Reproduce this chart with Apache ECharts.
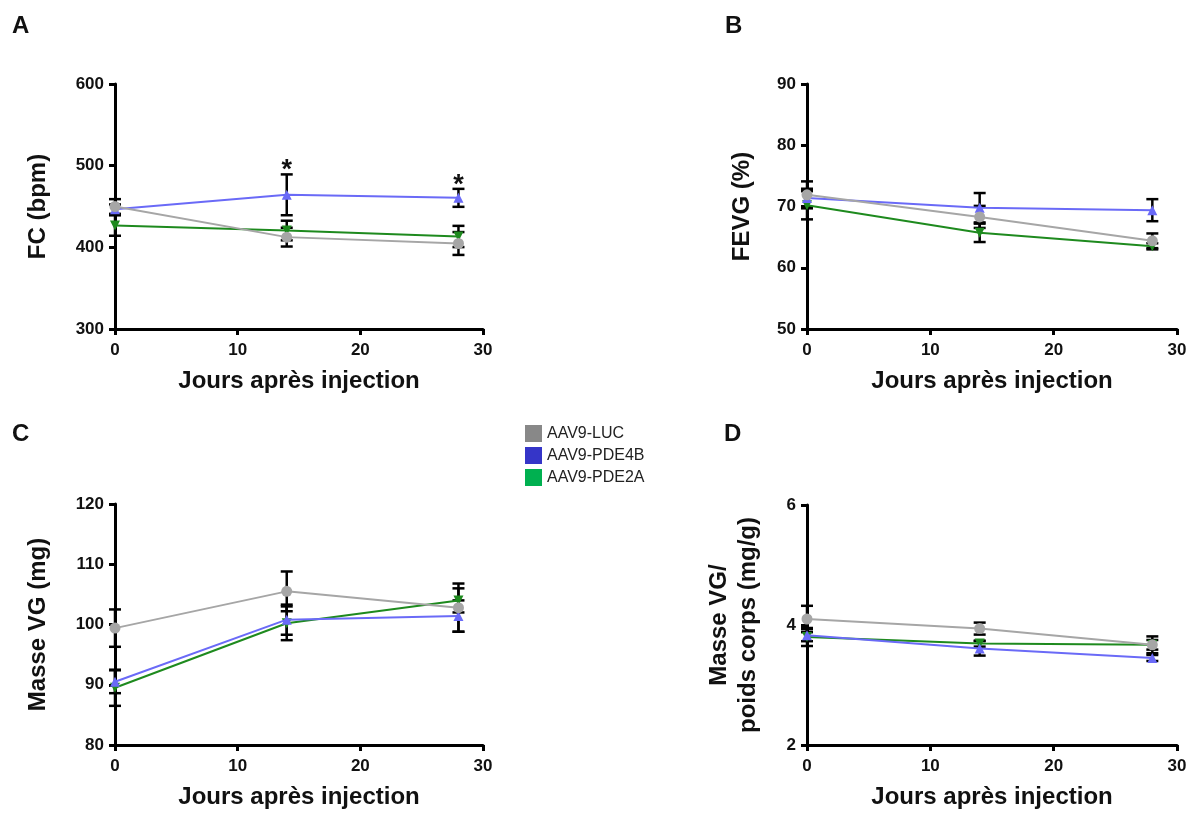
<!DOCTYPE html>
<html>
<head>
<meta charset="utf-8">
<script src="https://cdn.jsdelivr.net/npm/echarts@6/dist/echarts.min.js"></script>
<style>
html,body{margin:0;padding:0;background:#fff;}
#chart{width:1193px;height:813px;}
</style>
</head>
<body>
<div id="chart"></div>
<script>
// ---------- data ----------
const days = [0, 14, 28];
const groupNames = ['AAV9-LUC', 'AAV9-PDE4B', 'AAV9-PDE2A'];
const xTicks = [0, 10, 20, 30];

// Panel A: FC (bpm)
const fcLuc = [450, 412.5, 404.7];
const fcLucErr = [9, 11.5, 14];
const fcPde4b = [446.5, 464.3, 460.6];
const fcPde4bErr = [6, 25, 11];
const fcPde2a = [426.7, 420.6, 413.3];
const fcPde2aErr = [12.5, 12, 13];
const fcSignif = ['', '*', '*'];   // vs AAV9-PDE4B
const fcTicks = [300, 400, 500, 600];

// Panel B: FEVG (%)
const fevgLuc = [71.9, 68.3, 64.4];
const fevgLucErr = [2.2, 1.8, 1.2];
const fevgPde4b = [71.4, 69.8, 69.4];
const fevgPde4bErr = [1.5, 2.4, 1.8];
const fevgPde2a = [70.2, 65.7, 63.5];
const fevgPde2aErr = [2.3, 1.5, 0.5];
const fevgTicks = [50, 60, 70, 80, 90];

// Panel C: Masse VG (mg)
const mvgLuc = [99.4, 105.5, 102.8];
const mvgLucErr = [3.1, 3.3, 4.0];
const mvgPde4b = [90.5, 100.8, 101.4];
const mvgPde4bErr = [1.9, 2.5, 2.6];
const mvgPde2a = [89.5, 100.2, 104.0];
const mvgPde2aErr = [3.0, 2.8, 2.0];
const mvgTicks = [80, 90, 100, 110, 120];

// Panel D: Masse VG / poids corps (mg/g)
const ratioLuc = [4.10, 3.94, 3.67];
const ratioLucErr = [0.22, 0.10, 0.14];
const ratioPde4b = [3.83, 3.61, 3.45];
const ratioPde4bErr = [0.10, 0.12, 0.05];
const ratioPde2a = [3.80, 3.69, 3.67];
const ratioPde2aErr = [0.15, 0.05, 0.08];
const ratioTicks = [2, 4, 6];

// ---------- styles ----------
const FONT = '"Liberation Sans", Arial, sans-serif';
const lineColors = ['#a6a6a6', '#6a6af7', '#1e8a1e'];
const legendColors = ['#888888', '#3535c8', '#00b050'];
const symbols = ['circle', 'triangle', 'triangle'];
const symbolRot = [0, 0, 180];

const chart = echarts.init(document.getElementById('chart'), null, {renderer: 'canvas'});

const grids = [
  {left: 115, top: 84, width: 368, height: 245},
  {left: 807, top: 84, width: 370, height: 245},
  {left: 115, top: 504, width: 368, height: 247},
  {left: 807, top: 505, width: 370, height: 246}
];

const panels = [
  {means: [fcLuc, fcPde4b, fcPde2a], errs: [fcLucErr, fcPde4bErr, fcPde2aErr], ticks: fcTicks, name: 'FC (bpm)', nameGap: 62},
  {means: [fevgLuc, fevgPde4b, fevgPde2a], errs: [fevgLucErr, fevgPde4bErr, fevgPde2aErr], ticks: fevgTicks, name: 'FEVG (%)', nameGap: 50},
  {means: [mvgLuc, mvgPde4b, mvgPde2a], errs: [mvgLucErr, mvgPde4bErr, mvgPde2aErr], ticks: mvgTicks, name: 'Masse VG (mg)', nameGap: 62},
  {means: [ratioLuc, ratioPde4b, ratioPde2a], errs: [ratioLucErr, ratioPde4bErr, ratioPde2aErr], ticks: ratioTicks, name: 'Masse VG/\npoids corps (mg/g)', nameGap: 44}
];

const axisLineStyle = {show: true, lineStyle: {color: '#000', width: 3}};
const axisTickStyle = {show: true, length: 6, lineStyle: {color: '#000', width: 3}};
const yLabelStyle = {color: '#111', fontFamily: FONT, fontWeight: 'bold', fontSize: 17, margin: 11};
const xLabelStyle = {color: '#111', fontFamily: FONT, fontWeight: 'bold', fontSize: 17, margin: 13};
const axisNameStyle = {color: '#111', fontFamily: FONT, fontWeight: 'bold', fontSize: 24, lineHeight: 29};

const xAxes = [], yAxes = [], series = [];

panels.forEach((p, gi) => {
  xAxes.push({
    type: 'value', gridIndex: gi, min: xTicks[0], max: xTicks[xTicks.length - 1],
    interval: xTicks[1] - xTicks[0],
    axisLine: axisLineStyle, axisTick: axisTickStyle, axisLabel: xLabelStyle,
    splitLine: {show: false},
    name: 'Jours après injection', nameLocation: 'middle', nameGap: 38,
    nameTextStyle: axisNameStyle
  });
  yAxes.push({
    type: 'value', gridIndex: gi, min: p.ticks[0], max: p.ticks[p.ticks.length - 1],
    interval: p.ticks[1] - p.ticks[0],
    axisLine: axisLineStyle, axisTick: axisTickStyle, axisLabel: yLabelStyle,
    splitLine: {show: false},
    name: p.name, nameLocation: 'middle', nameGap: p.nameGap,
    nameTextStyle: axisNameStyle
  });

  // error bars
  for (let k = 0; k < 3; k++) {
    const data = days.map((d, i) => [d, p.means[k][i] - p.errs[k][i], p.means[k][i] + p.errs[k][i]]);
    series.push({
      type: 'custom', xAxisIndex: gi, yAxisIndex: gi, z: 2, silent: true,
      encode: {x: 0, y: [1, 2]},
      data: data,
      renderItem: function (params, api) {
        const x = api.value(0);
        const lo = api.coord([x, api.value(1)]);
        const hi = api.coord([x, api.value(2)]);
        const hw = 6;
        const st = {stroke: '#000', lineWidth: 2.5};
        return {
          type: 'group',
          children: [
            {type: 'line', shape: {x1: lo[0], y1: lo[1], x2: hi[0], y2: hi[1]}, style: st},
            {type: 'line', shape: {x1: lo[0] - hw, y1: lo[1], x2: lo[0] + hw, y2: lo[1]}, style: st},
            {type: 'line', shape: {x1: hi[0] - hw, y1: hi[1], x2: hi[0] + hw, y2: hi[1]}, style: st}
          ]
        };
      }
    });
  }
  // lines (green first, gray on top)
  [2, 1, 0].forEach(k => {
    series.push({
      type: 'line', name: groupNames[k], xAxisIndex: gi, yAxisIndex: gi, z: 3 + (2 - k),
      data: days.map((d, i) => [d, p.means[k][i]]),
      symbol: symbols[k], symbolRotate: symbolRot[k], symbolSize: k === 0 ? 11 : 10,
      showSymbol: true,
      lineStyle: {color: lineColors[k], width: 2},
      itemStyle: {color: lineColors[k], borderWidth: 0},
      emphasis: {disabled: true},
      animation: false
    });
  });
});

// significance asterisks (panel A, above AAV9-PDE4B upper error bar)
series.push({
  type: 'custom', xAxisIndex: 0, yAxisIndex: 0, z: 10, silent: true,
  data: days.map((d, i) => [d, fcPde4b[i] + fcPde4bErr[i]]),
  renderItem: function (params, api) {
    const txt = fcSignif[params.dataIndex];
    if (!txt) return null;
    const pt = api.coord([api.value(0), api.value(1)]);
    return {
      type: 'text',
      style: {x: pt[0], y: pt[1] - 17, text: txt, fill: '#111', font: 'bold 27px ' + FONT, align: 'center', verticalAlign: 'top'}
    };
  }
});

const option = {
  backgroundColor: '#fff',
  animation: false,
  grid: grids.map(g => Object.assign({containLabel: false}, g)),
  xAxis: xAxes,
  yAxis: yAxes,
  legend: {
    orient: 'vertical', left: 520, top: 420,
    icon: 'rect', itemWidth: 17, itemHeight: 17, itemGap: 5,
    selectedMode: false,
    textStyle: {fontFamily: FONT, fontSize: 16, color: '#222'},
    data: groupNames.map((n, k) => ({name: n, itemStyle: {color: legendColors[k], borderWidth: 0}}))
  },
  graphic: [
    {type: 'text', left: 12, top: 14, style: {text: 'A', font: 'bold 24px ' + FONT, fill: '#111'}},
    {type: 'text', left: 725, top: 14, style: {text: 'B', font: 'bold 24px ' + FONT, fill: '#111'}},
    {type: 'text', left: 12, top: 422, style: {text: 'C', font: 'bold 24px ' + FONT, fill: '#111'}},
    {type: 'text', left: 724, top: 422, style: {text: 'D', font: 'bold 24px ' + FONT, fill: '#111'}}
  ],
  series: series
};
chart.setOption(option);
</script>
</body>
</html>
